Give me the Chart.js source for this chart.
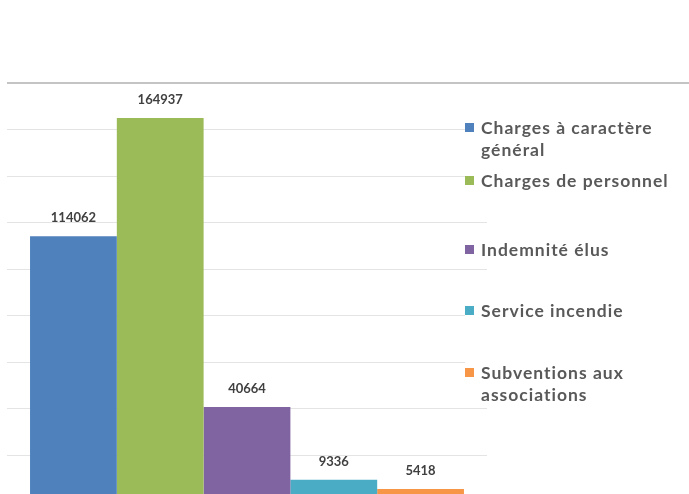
<!DOCTYPE html>
<html>
<head>
<meta charset="utf-8">
<script src="https://cdn.jsdelivr.net/npm/chart.js@4.4.1/dist/chart.umd.min.js"></script>
<style>
  html, body { margin: 0; padding: 0; background: #ffffff; overflow: hidden; }
  #wrap { width: 689px; height: 494px; overflow: hidden; position: relative; }
  canvas { display: block; }
</style>
</head>
<body>
<div id="wrap"><canvas id="c" width="689" height="520"></canvas></div>
<script>
// ---- data ----
const categories = [''];
const seriesNames = [
  'Charges à caractère général',
  'Charges de personnel',
  'Indemnité élus',
  'Service incendie',
  'Subventions aux associations'
];
const seriesValues = [114062, 164937, 40664, 9336, 5418];
const seriesColors = ['#4F81BD', '#9BBB59', '#8064A2', '#4BACC6', '#F79646'];
const yMin = 0, yMax = 180000, yStep = 20000;

// ---- plugins ----
const valueLabels = {
  id: 'valueLabels',
  afterDatasetsDraw(chart) {
    const ctx = chart.ctx;
    ctx.save();
    ctx.font = 'bold 13px Lato, "Open Sans", sans-serif';
    ctx.fillStyle = '#404040';
    ctx.textAlign = 'center';
    ctx.textBaseline = 'middle';
    chart.data.datasets.forEach((ds, i) => {
      const meta = chart.getDatasetMeta(i);
      meta.data.forEach((bar, j) => {
        ctx.fillText(String(ds.data[j]), bar.x, bar.y - 18);
      });
    });
    ctx.restore();
  }
};

const topLine = {
  id: 'topLine',
  beforeDatasetsDraw(chart) {
    const ctx = chart.ctx;
    const y = chart.scales.y.getPixelForValue(yMax);
    ctx.save();
    ctx.strokeStyle = '#C4C4C4';
    ctx.lineWidth = 2;
    ctx.beginPath();
    ctx.moveTo(chart.chartArea.left, y);
    ctx.lineTo(chart.width, y);
    ctx.stroke();
    ctx.restore();
  }
};

const sideLegend = {
  id: 'sideLegend',
  afterDraw(chart, args, opts) {
    const ctx = chart.ctx;
    ctx.save();
    ctx.font = opts.font;
    if ('letterSpacing' in ctx) ctx.letterSpacing = opts.spacing;
    ctx.textBaseline = 'middle';
    ctx.textAlign = 'left';
    chart.data.datasets.forEach((ds, i) => {
      const words = ds.label.split(' ');
      const lines = [];
      let cur = '';
      words.forEach(w => {
        const t = cur ? cur + ' ' + w : w;
        if (ctx.measureText(t).width > opts.maxWidth && cur) { lines.push(cur); cur = w; }
        else cur = t;
      });
      if (cur) lines.push(cur);
      const y0 = opts.rows[i];
      let wmax = 0;
      lines.forEach(l => { wmax = Math.max(wmax, ctx.measureText(l).width); });
      ctx.fillStyle = '#ffffff';
      ctx.fillRect(opts.x, y0 - opts.lineH / 2, opts.textX - opts.x + wmax + 2, opts.lineH * lines.length);
      ctx.fillStyle = ds.backgroundColor;
      ctx.fillRect(opts.x, y0 - 5, 9, 9);
      ctx.fillStyle = '#595959';
      lines.forEach((l, k) => ctx.fillText(l, opts.textX, y0 + k * opts.lineH));
    });
    ctx.restore();
  }
};

new Chart(document.getElementById('c'), {
  type: 'bar',
  data: {
    labels: categories,
    datasets: seriesNames.map((name, i) => ({
      label: name,
      data: [seriesValues[i]],
      backgroundColor: seriesColors[i],
      borderWidth: 0,
      categoryPercentage: 0.904,
      barPercentage: 1.0
    }))
  },
  options: {
    responsive: false,
    animation: false,
    events: [],
    layout: { padding: { left: 7, right: 202, top: 83, bottom: 18.5 } },
    plugins: {
      legend: { display: false },
      tooltip: { enabled: false },
      title: { display: false },
      sideLegend: {
        font: 'bold 17.5px Lato, "Open Sans", sans-serif',
        spacing: '1px',
        x: 465, textX: 481, maxWidth: 200, lineH: 22,
        rows: [128, 181, 250, 311, 373]
      }
    },
    scales: {
      x: { display: false },
      y: {
        min: yMin, max: yMax,
        ticks: { display: false, stepSize: yStep },
        grid: { color: '#E4E4E4', drawTicks: false, lineWidth: 1 },
        border: { display: false },
        afterFit(scale) { scale.width = 0; }
      }
    }
  },
  plugins: [topLine, valueLabels, sideLegend]
});
</script>
</body>
</html>
